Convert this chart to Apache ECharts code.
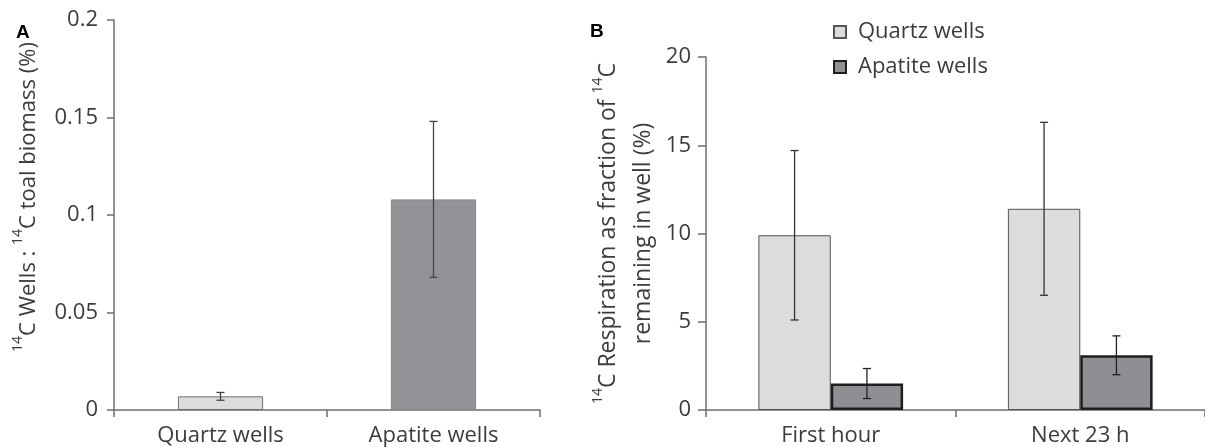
<!DOCTYPE html>
<html>
<head>
<meta charset="utf-8">
<script src="https://cdn.jsdelivr.net/npm/echarts@6/dist/echarts.min.js"></script>
<style>
  html, body { margin: 0; padding: 0; background: #fff; }
  #main { width: 1205px; height: 447px; }
</style>
</head>
<body>
<div id="main"></div>
<script>
// panel A
var catA = ['Quartz wells', 'Apatite wells'];
var meanA = [0.007, 0.108];
var errA = [0.002, 0.040];
var ticksA = [0, 0.05, 0.1, 0.15, 0.2];

// panel B
var catB = ['First hour', 'Next 23 h'];
var quartzB = [9.9, 11.4];
var quartzErrB = [4.8, 4.9];
var apatiteB = [1.5, 3.1];
var apatiteErrB = [0.85, 1.1];
var ticksB = [0, 5, 10, 15, 20];

var txt = '#3c3c3c';
var axisCol = '#6e6e6e';
var font = 'Open Sans';
var fs = 22;
var barW = 0.29;

function errData(mean, err) {
    return mean.map(function (v, i) { return [i, v - err[i], v + err[i]]; });
}

function errSeries(name, data, xi, yi, shift, col) {
    return {
        type: 'custom',
        name: name,
        xAxisIndex: xi,
        yAxisIndex: yi,
        z: 10,
        silent: true,
        renderItem: function (params, api) {
            var band = api.size([1, 0])[0];
            var dx = shift * band * barW / 2;
            var lo = api.coord([api.value(0), api.value(1)]);
            var hi = api.coord([api.value(0), api.value(2)]);
            var x = lo[0] + dx;
            var c = 4;
            var st = { stroke: col, lineWidth: 1.3 };
            return {
                type: 'group',
                children: [
                    { type: 'line', shape: { x1: x, y1: lo[1], x2: x, y2: hi[1] }, style: st },
                    { type: 'line', shape: { x1: x - c, y1: lo[1], x2: x + c, y2: lo[1] }, style: st },
                    { type: 'line', shape: { x1: x - c, y1: hi[1], x2: x + c, y2: hi[1] }, style: st }
                ]
            };
        },
        data: data
    };
}

function axisBase(tickLen) {
    return {
        axisLine: { show: true, lineStyle: { color: axisCol, width: 1.5 } },
        axisTick: { show: true, lineStyle: { color: axisCol, width: 1.5 }, length: tickLen },
        splitLine: { show: false }
    };
}

function supRich(size) {
    return {
        sup: { fontSize: 14, fontFamily: font, color: txt, verticalAlign: 'top', lineHeight: 24 },
        n: { fontSize: size, fontFamily: font, color: txt, lineHeight: 35 }
    };
}

var option = {
    animation: false,
    backgroundColor: '#fff',
    textStyle: { fontFamily: font },
    title: [
        { text: 'A', left: 16, top: 23, padding: 0, textStyle: { fontSize: 19, fontWeight: 'bold', fontFamily: 'Liberation Sans', color: '#000' } },
        { text: 'B', left: 590, top: 22, padding: 0, textStyle: { fontSize: 19, fontWeight: 'bold', fontFamily: 'Liberation Sans', color: '#000' } }
    ],
    legend: {
        data: ['Quartz wells', 'Apatite wells'],
        orient: 'vertical',
        left: 833,
        top: 21,
        padding: 0,
        icon: 'rect',
        itemWidth: 12,
        itemHeight: 12,
        itemGap: 13,
        textStyle: { fontSize: fs, color: txt, fontFamily: font, padding: [0, 0, 0, 7] }
    },
    grid: [
        { left: 114, top: 20, width: 426, bottom: 35 },
        { left: 706, top: 57, right: -12, bottom: 36 }
    ],
    xAxis: [
        Object.assign(axisBase(7), {
            type: 'category', gridIndex: 0, data: catA,
            axisLabel: { fontSize: fs, color: txt, margin: 15 }
        }),
        Object.assign(axisBase(7), {
            type: 'category', gridIndex: 1, data: catB,
            axisLabel: { fontSize: fs, color: txt, margin: 15 }
        })
    ],
    yAxis: [
        Object.assign(axisBase(7), {
            type: 'value', gridIndex: 0,
            min: ticksA[0], max: ticksA[ticksA.length - 1], interval: ticksA[1] - ticksA[0],
            axisLabel: { fontSize: fs, color: txt, margin: 16 },
            name: '{sup|14}{n|C Wells : }{sup|14}{n|C toal biomass (%)}',
            nameLocation: 'middle',
            nameGap: 68,
            nameRotate: 90,
            nameTextStyle: { rich: supRich(22), padding: [0, 0, 0, 36] }
        }),
        Object.assign(axisBase(8), {
            type: 'value', gridIndex: 1,
            min: ticksB[0], max: ticksB[ticksB.length - 1], interval: ticksB[1] - ticksB[0],
            axisLabel: { fontSize: fs, color: txt, margin: 15 },
            name: '{sup|14}{n|C Respiration as fraction of }{sup|14}{n|C}\n{n|remaining in well (%)}',
            nameLocation: 'middle',
            nameGap: 45,
            nameRotate: 90,
            nameTextStyle: { rich: supRich(23), align: 'center' }
        })
    ],
    series: [
        {
            type: 'bar',
            name: 'A',
            xAxisIndex: 0,
            yAxisIndex: 0,
            barWidth: '40%',
            data: [
                { value: meanA[0], itemStyle: { color: '#dcdcde', borderColor: '#707070', borderWidth: 1 } },
                { value: meanA[1], itemStyle: { color: '#929397', borderColor: '#86878a', borderWidth: 1 } }
            ]
        },
        errSeries('errA', errData(meanA, errA), 0, 0, 0, '#444'),
        {
            type: 'bar',
            name: 'Quartz wells',
            xAxisIndex: 1,
            yAxisIndex: 1,
            barWidth: (barW * 100) + '%',
            barGap: '0%',
            itemStyle: { color: '#dcdcde', borderColor: '#555', borderWidth: 1 },
            data: quartzB
        },
        {
            type: 'bar',
            name: 'Apatite wells',
            xAxisIndex: 1,
            yAxisIndex: 1,
            barWidth: (barW * 100) + '%',
            barGap: '0%',
            itemStyle: { color: '#8e8f93', borderColor: '#1e1e1e', borderWidth: 2.5 },
            data: apatiteB
        },
        errSeries('errQ', errData(quartzB, quartzErrB), 1, 1, -1, '#333'),
        errSeries('errP', errData(apatiteB, apatiteErrB), 1, 1, 1, '#222')
    ]
};

echarts.init(document.getElementById('main')).setOption(option);
</script>
</body>
</html>
